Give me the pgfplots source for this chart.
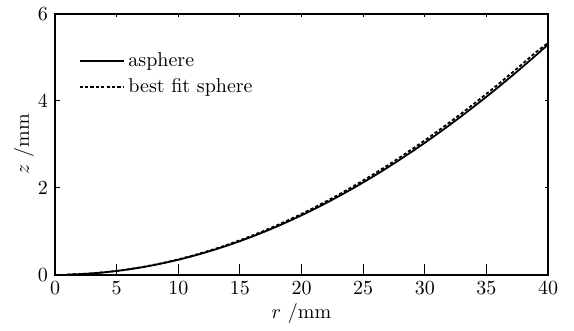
\documentclass[border=0pt]{standalone}
\usepackage{pgfplots}
\pgfplotsset{compat=1.18}
\usepackage{pgfplotstable}
\usetikzlibrary{calc}
\pgfplotstableread{
r z
1 0.0035
2 0.0138
3 0.0310
4 0.0552
5 0.0862
6 0.1241
7 0.1688
8 0.2204
9 0.2789
10 0.3441
11 0.4161
12 0.4949
13 0.5805
14 0.6727
15 0.7717
16 0.8773
17 0.9895
18 1.1084
19 1.2337
20 1.3656
21 1.5040
22 1.6487
23 1.7999
24 1.9573
25 2.1211
26 2.2911
27 2.4672
28 2.6495
29 2.8378
30 3.0321
31 3.2323
32 3.4384
33 3.6503
34 3.8679
35 4.0912
36 4.3200
37 4.5544
38 4.7942
39 5.0393
40 5.2896
}\asphere
\pgfplotstableread{
r z
1 0.0036
2 0.0142
3 0.0318
4 0.0566
5 0.0885
6 0.1275
7 0.1735
8 0.2265
9 0.2865
10 0.3535
11 0.4275
12 0.5083
13 0.5960
14 0.6905
15 0.7918
16 0.8998
17 1.0145
18 1.1358
19 1.2637
20 1.3981
21 1.5389
22 1.6862
23 1.8399
24 1.9998
25 2.1660
26 2.3384
27 2.5169
28 2.7015
29 2.8921
30 3.0887
31 3.2911
32 3.4993
33 3.7132
34 3.9327
35 4.1577
36 4.3882
37 4.6240
38 4.8650
39 5.1111
40 5.3300
}\sphere
\begin{document}
\begin{tikzpicture}
\begin{axis}[
  name=ax,
  scale only axis,
  width=246.5pt, height=130.5pt,
  xmin=0, xmax=40, ymin=0, ymax=6,
  xtick={0,5,...,40}, ytick={0,2,4,6},
  tick align=inside,
  xtick pos=bottom, ytick pos=left,
  major tick length=5.5pt,
  ytick style={draw=none},
  axis line style={line width=0.9pt},
  xtick style={line width=0.6pt, black},
  xlabel={$r$ /mm}, ylabel={$z$ /mm},
  xlabel style={at={(axis description cs:0.5,-0.149)}, anchor=center},
  ylabel style={at={(axis description cs:-0.063,0.5)}, anchor=center},
  legend style={draw=none, fill=none, at={(0.035,0.883)}, anchor=north west,
    row sep=0.3pt, font=\normalsize},
  legend cell align=left,
  legend image code/.code={\draw[#1] (0pt,0pt) -- (22pt,0pt);},
]
\addplot[black, line width=0.9pt] table[x=r,y=z] {\asphere};
\addlegendentry{asphere}
\addplot[black, line width=0.9pt, dash pattern=on 1.6pt off 1.1pt] table[x=r,y=z] {\sphere};
\addlegendentry{best fit sphere}
\end{axis}
\begin{axis}[
  scale only axis,
  width=246.5pt, height=130.5pt,
  xmin=0, xmax=40, ymin=0, ymax=6,
  xtick=\empty, ytick={0,2,4,6},
  tick align=inside,
  ytick pos=left,
  yticklabels={},
  major tick length=2.5pt,
  axis line style={line width=0.9pt},
  tick style={line width=0.6pt, black},
]
\end{axis}
\begin{axis}[
  scale only axis,
  width=246.5pt, height=130.5pt,
  xmin=0, xmax=40, ymin=0, ymax=6,
  xtick={0,5,...,40}, ytick={0,2,4,6},
  tick align=inside,
  xtick pos=top, ytick pos=right,
  xticklabels={}, yticklabels={},
  major tick length=1.5pt,
  axis line style={line width=0.9pt},
  tick style={line width=0.6pt, black},
]
\end{axis}
\path ($(ax.south west)+(-27.5pt,-26pt)$) rectangle ($(ax.north east)+(13pt,6pt)$);
\end{tikzpicture}
\end{document}
